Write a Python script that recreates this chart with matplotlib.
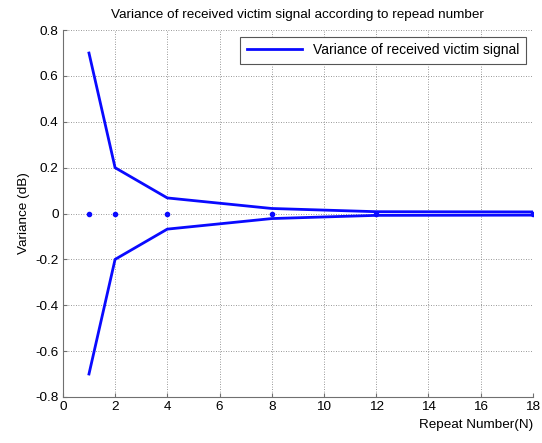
import numpy as np
import matplotlib
matplotlib.use("Agg")
import matplotlib.pyplot as plt

plt.rcParams['font.family'] = ['Liberation Sans', 'DejaVu Sans']

# repeat numbers and the variance envelope (dB)
n_repeat = [1, 2, 4, 8, 12, 18]
var_upper = [0.70, 0.20, 0.068, 0.022, 0.008, 0.007]
var_lower = [-0.70, -0.20, -0.068, -0.022, -0.008, -0.007]
mean_val = [0, 0, 0, 0, 0, 0]

fig = plt.figure(figsize=(5.42, 4.43), dpi=100)
ax = fig.add_axes([0.116, 0.104, 0.867, 0.828])

ax.plot(n_repeat, var_upper, color='#0a0aff', lw=2, label='Variance of received victim signal')
ax.plot(n_repeat, var_lower, color='#0a0aff', lw=2)
ax.plot(n_repeat, mean_val, '.', color='#0a0aff', ms=6)

ax.set_xlim(0, 18)
ax.set_ylim(-0.8, 0.8)
ax.set_xticks(np.arange(0, 19, 2))
ax.set_yticks(np.arange(-0.8, 0.81, 0.2))
ax.set_yticklabels(['-0.8', '-0.6', '-0.4', '-0.2', '0', '0.2', '0.4', '0.6', '0.8'])

ax.grid(True, ls=(0, (1, 2)), color='#777777', lw=0.6)
for s in ['top', 'right']:
    ax.spines[s].set_visible(False)
for s in ['left', 'bottom']:
    ax.spines[s].set_color('#707070')
ax.tick_params(direction='in', length=3, color='#707070', labelsize=9.7, pad=3)

ax.set_title('Variance of received victim signal according to repead number', fontsize=9.7, pad=9)
ax.set_ylabel('Variance (dB)', fontsize=9.7)
ax.set_xlabel('Repeat Number(N)', fontsize=9.7)
ax.xaxis.set_label_coords(1.0, -0.06)
ax.xaxis.label.set_horizontalalignment('right')

leg = ax.legend(loc='upper right', fontsize=10, fancybox=False, framealpha=1,
                edgecolor='#555555', borderaxespad=0.5, borderpad=0.45, handlelength=4)
leg.get_frame().set_linewidth(0.8)

fig.savefig('out.png', dpi=100)
